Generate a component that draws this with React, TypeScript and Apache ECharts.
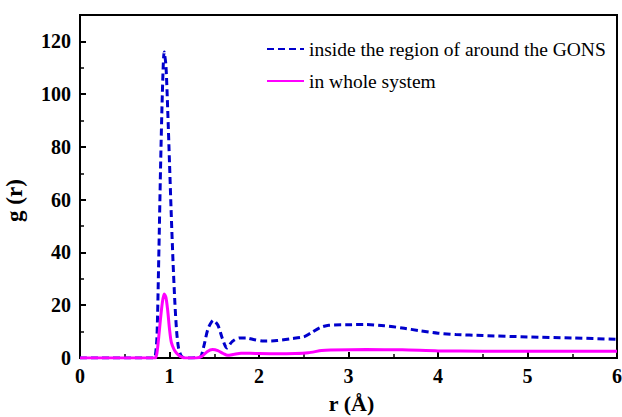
import React, { useEffect, useRef } from "react";
import * as echarts from "echarts";

// Radial distribution function g(r) for two regions
const regionPoints: [number, number][] = [
  [0, 0], [0.5, 0], [0.82, 0], [0.84, 0.5], [0.86, 8], [0.88, 38], [0.9, 72], [0.92, 100],
  [0.94, 116], [0.96, 111], [0.98, 94], [1.0, 74], [1.02, 54], [1.04, 36], [1.06, 21],
  [1.08, 10], [1.1, 4], [1.13, 0.8], [1.17, 0], [1.34, 0.3], [1.38, 4], [1.43, 11],
  [1.49, 14.3], [1.54, 12.5], [1.59, 7.5], [1.64, 3.8], [1.7, 6.2], [1.78, 7.6], [1.86, 7.6],
  [1.95, 6.9], [2.05, 6.4], [2.2, 6.6], [2.35, 7.3], [2.5, 8], [2.58, 9.5], [2.68, 11.5],
  [2.78, 12.4], [3.0, 12.6], [3.2, 12.7], [3.4, 12.2], [3.6, 11.4], [3.8, 10.3], [4.0, 9.4],
  [4.2, 8.9], [4.5, 8.5], [5.0, 8.0], [5.5, 7.6], [6.0, 7.1],
];

const wholePoints: [number, number][] = [
  [0, 0], [0.5, 0], [0.84, 0], [0.86, 2], [0.88, 8], [0.9, 15], [0.92, 21], [0.94, 24.3],
  [0.96, 23], [0.98, 18], [1.0, 11], [1.02, 6], [1.05, 3.3], [1.08, 1.8], [1.12, 0.6],
  [1.17, 0], [1.3, 0], [1.36, 0.6], [1.42, 2.4], [1.48, 3.2], [1.54, 2.8], [1.6, 1.7],
  [1.65, 1.0], [1.72, 1.4], [1.8, 1.8], [1.9, 1.8], [2.0, 1.7], [2.2, 1.6], [2.4, 1.7],
  [2.55, 2.0], [2.7, 2.8], [2.8, 3.0], [3.2, 3.2], [3.6, 3.1], [4.0, 2.7], [4.5, 2.6],
  [5.0, 2.6], [6.0, 2.6],
];

const seriesNames = ["inside the region of around the GONS", "in whole system"];

const serif = "'Liberation Serif', 'Times New Roman', serif";

export default function App() {
  const ref = useRef<HTMLDivElement>(null);

  useEffect(() => {
    if (!ref.current) return;
    const chart = echarts.init(ref.current, undefined, { renderer: "svg" });
    chart.setOption({
      animation: false,
      grid: {
        left: 80,
        right: 5,
        top: 15,
        bottom: 59,
        outerBoundsMode: "none",
        show: true,
        borderColor: "#000",
        borderWidth: 2,
      },
      legend: {
        orient: "vertical",
        left: 266,
        top: 39,
        padding: 0,
        itemWidth: 37,
        itemHeight: 14,
        itemGap: 12,
        itemStyle: { opacity: 0 },
        textStyle: { fontFamily: serif, fontSize: 19.5, color: "#000" },
        data: seriesNames,
      },
      xAxis: {
        type: "value",
        min: 0,
        max: 6,
        interval: 1,
        name: "r (Å)",
        nameLocation: "middle",
        nameGap: 34,
        nameTextStyle: {
          fontFamily: serif,
          fontSize: 22,
          fontWeight: "bold",
          color: "#000",
          padding: [0, 0, 0, 6],
        },
        axisLine: { lineStyle: { color: "#000", width: 2 } },
        axisTick: { inside: true, length: 6, lineStyle: { color: "#000", width: 2 } },
        minorTick: { show: true, splitNumber: 2, length: 4, lineStyle: { color: "#000", width: 1.5 } },
        axisLabel: { fontFamily: serif, fontSize: 20, fontWeight: "bold", color: "#000", margin: 8 },
        splitLine: { show: false },
      },
      yAxis: {
        type: "value",
        min: 0,
        max: 130,
        interval: 20,
        name: "g (r)",
        nameLocation: "middle",
        nameGap: 54,
        nameRotate: 90,
        nameTextStyle: {
          fontFamily: serif,
          fontSize: 23,
          fontWeight: "bold",
          color: "#000",
          padding: [0, 28, 0, 0],
        },
        axisLine: { lineStyle: { color: "#000", width: 2 } },
        axisTick: { inside: true, length: 6, lineStyle: { color: "#000", width: 2 } },
        minorTick: { show: true, splitNumber: 2, length: 4, lineStyle: { color: "#000", width: 1.5 } },
        axisLabel: {
          fontFamily: serif,
          fontSize: 20,
          fontWeight: "bold",
          color: "#000",
          margin: 9,
          showMaxLabel: false,
        },
        splitLine: { show: false },
      },
      series: [
        {
          name: seriesNames[0],
          type: "line",
          data: regionPoints,
          smooth: 0.25,
          symbol: "none",
          lineStyle: { color: "#0000CC", width: 3, type: [7, 4] },
          itemStyle: { color: "#0000CC" },
          z: 3,
        },
        {
          name: seriesNames[1],
          type: "line",
          data: wholePoints,
          smooth: 0.25,
          symbol: "none",
          lineStyle: { color: "#FF00FF", width: 3 },
          itemStyle: { color: "#FF00FF" },
          z: 4,
        },
      ],
    });
    return () => chart.dispose();
  }, []);

  return (
    <div
      ref={ref}
      style={{ position: "absolute", left: 0, top: 0, width: 622, height: 417 }}
    />
  );
}
